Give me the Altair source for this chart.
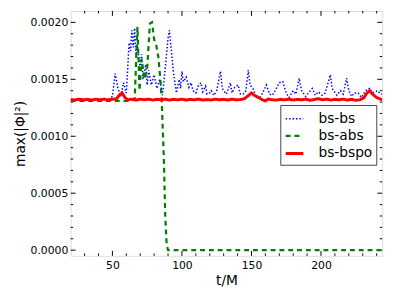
import altair as alt
import pandas as pd

# ---- data ----
bsbs_t = [20, 30, 40, 48, 50, 52, 54, 56, 58, 60, 62, 63, 64, 65, 66, 67, 68, 70, 71, 72, 74, 75, 76, 78,
          80, 82, 84, 86, 88, 90, 91, 92, 94, 96, 98, 99, 100, 101, 103, 105, 106.5, 108, 110, 112, 113.6,
          115, 117, 118, 120, 121, 123, 125, 127.7, 129, 130, 132, 134.8, 136, 138, 140.4, 142, 144, 146,
          147.7, 149, 151, 153, 155.7, 158, 160.7, 163, 165, 167, 170, 172.5, 175, 177, 180, 182, 184.3,
          186, 189, 191, 193.7, 196, 198, 200.8, 203, 206.7, 208, 211.4, 214, 216, 218.4, 220, 222, 224,
          226.7, 229, 232, 235, 237, 240.8, 242, 244]
bsbs_v = [0.00132, 0.00132, 0.00132, 0.00133, 0.00135, 0.00155, 0.00142, 0.00135, 0.00147, 0.00138,
          0.00182, 0.00175, 0.00193, 0.00178, 0.00195, 0.00170, 0.00180, 0.00160, 0.00172, 0.00150,
          0.00163, 0.00145, 0.00158, 0.00145, 0.00154, 0.00142, 0.00150, 0.00136, 0.00160, 0.00186,
          0.00193, 0.00180, 0.00155, 0.00138, 0.00150, 0.00142, 0.00157, 0.00148, 0.00152, 0.00143,
          0.00147, 0.00140, 0.00138, 0.00145, 0.00147, 0.00139, 0.00144, 0.00137, 0.00138, 0.00140,
          0.00136, 0.00140, 0.00157, 0.00142, 0.00140, 0.00137, 0.00147, 0.00138, 0.00143, 0.00145,
          0.00137, 0.00137, 0.00140, 0.00158, 0.00145, 0.00142, 0.00136, 0.00133, 0.00138, 0.00145,
          0.00137, 0.00136, 0.00140, 0.00147, 0.00148, 0.00138, 0.00134, 0.00140, 0.00137, 0.00151,
          0.00140, 0.00135, 0.00138, 0.00142, 0.00136, 0.00139, 0.00136, 0.00138, 0.00154, 0.00142,
          0.00136, 0.00140, 0.00137, 0.00151, 0.00140, 0.00135, 0.00138, 0.00138, 0.00134, 0.00140,
          0.00142, 0.00138, 0.00140, 0.00138, 0.00137]

bsabs_t = [20, 40, 62, 66, 68, 69.5, 71, 73, 75, 77, 78.5, 80, 81.5, 83, 84.5, 85.5, 87, 88, 89, 90, 150, 244]
bsabs_v = [0.00131, 0.00131, 0.00131, 0.00132, 0.00196, 0.00140, 0.00168, 0.00150, 0.00160, 0.00199,
           0.00200, 0.00185, 0.00180, 0.00170, 0.00150, 0.00130, 0.00080, 0.00030, 0.00005, 0.0, 0.0, 0.0]

bspo_t = [20, 23, 26, 29, 32, 35, 38, 41, 44, 47, 50, 53, 55, 57, 59, 61, 64, 67, 70, 73, 76, 79, 82, 85,
          88, 91, 94, 97, 100, 103, 106, 109, 112, 115, 118, 121, 124, 127, 130, 133, 136, 139, 142, 145,
          148, 150, 152, 155, 158, 160, 162, 165, 168, 171, 174, 177, 180, 183, 186, 189, 192, 195, 198,
          201, 204, 207, 210, 213, 216, 219, 222, 225, 228, 231, 233, 235, 237, 240, 242, 244]
bspo_v = [0.001322, 0.001318, 0.001326, 0.001320, 0.001324, 0.001318, 0.001325, 0.001320, 0.001326,
          0.001318, 0.001324, 0.00133, 0.00136, 0.00138, 0.00134, 0.00132, 0.001326, 0.001318, 0.001325,
          0.001320, 0.001326, 0.001318, 0.001324, 0.00132, 0.001326, 0.001318, 0.001324, 0.00132,
          0.001326, 0.001318, 0.001324, 0.00132, 0.001326, 0.001318, 0.001322, 0.001318, 0.001326,
          0.00132, 0.001324, 0.001318, 0.001326, 0.00132, 0.001322, 0.00133, 0.00136, 0.00138, 0.00136,
          0.00134, 0.00132, 0.00131, 0.001326, 0.00132, 0.001318, 0.001324, 0.00132, 0.001326, 0.001318,
          0.001324, 0.00132, 0.001326, 0.001316, 0.001322, 0.00133, 0.00132, 0.001326, 0.001318, 0.001324,
          0.00132, 0.001326, 0.001318, 0.001324, 0.001316, 0.00132, 0.00134, 0.00138, 0.00140, 0.00137,
          0.00134, 0.00133, 0.00132]

series_names = ["bs-bs", "bs-abs", "bs-bspo"]
series_colors = ["#0000ff", "#008000", "#ff0000"]
series_dash = [[1.5, 2], [5, 4], [1, 0]]
series_width = [1.5, 3, 2]

x_major = [50, 100, 150, 200]
x_minor = [30, 40, 60, 70, 80, 90, 110, 120, 130, 140, 160, 170, 180, 190, 210, 220, 230, 240]
y_major = [0.0000, 0.0005, 0.0010, 0.0015, 0.0020]
y_minor = [0.0001, 0.0002, 0.0003, 0.0004, 0.0006, 0.0007, 0.0008, 0.0009,
           0.0011, 0.0012, 0.0013, 0.0014, 0.0016, 0.0017, 0.0018, 0.0019]

x_domain = [20, 244]
y_domain = [-0.00005, 0.0021]

W, H = 318, 250

df = pd.concat([
    pd.DataFrame({"t": bsbs_t, "v": bsbs_v, "series": "bs-bs"}),
    pd.DataFrame({"t": bsabs_t, "v": bsabs_v, "series": "bs-abs"}),
    pd.DataFrame({"t": bspo_t, "v": bspo_v, "series": "bs-bspo"}),
])

xscale = alt.Scale(domain=x_domain, nice=False, zero=False)
yscale = alt.Scale(domain=y_domain, nice=False, zero=False)
xaxis = alt.Axis(values=x_major, ticks=False, domain=False, grid=False, labelPadding=4,
                 title="t/M", titleFontSize=14, titlePadding=3, labelFontSize=11)
yaxis = alt.Axis(values=y_major, format=".4f", ticks=False, domain=False, grid=False, labelPadding=3,
                 title="max(|Φ|²)", titleFontSize=14, titlePadding=3, labelFontSize=11)

color = alt.Color("series:N", scale=alt.Scale(domain=series_names, range=series_colors),
                  legend=alt.Legend(title=None, orient="none", legendX=214, legendY=96,
                                    symbolType="stroke", symbolSize=324, labelFontSize=14,
                                    labelOffset=14, padding=4, rowPadding=0,
                                    strokeColor="#444444", fillColor="white",
                                    labelColor="black"))
dash = alt.StrokeDash("series:N", scale=alt.Scale(domain=series_names, range=series_dash), legend=None)
swidth = alt.StrokeWidth("series:N", scale=alt.Scale(domain=series_names, range=series_width), legend=None)

layers = []
for name in series_names:
    layers.append(
        alt.Chart(df).transform_filter(alt.datum.series == name).mark_line(clip=True).encode(
            x=alt.X("t:Q", scale=xscale, axis=xaxis),
            y=alt.Y("v:Q", scale=yscale, axis=yaxis),
            color=color, strokeDash=dash, strokeWidth=swidth,
        )
    )

def xticks(vals, ln):
    d = pd.DataFrame({"t": vals})
    b = alt.Chart(d).mark_rule(color="black", strokeWidth=1).encode(
        x=alt.X("t:Q", scale=xscale, axis=xaxis), y=alt.value(H), y2=alt.value(H - ln))
    t = alt.Chart(d).mark_rule(color="black", strokeWidth=1).encode(
        x=alt.X("t:Q", scale=xscale, axis=xaxis), y=alt.value(0), y2=alt.value(ln))
    return [b, t]

def yticks(vals, ln):
    d = pd.DataFrame({"v": vals})
    l = alt.Chart(d).mark_rule(color="black", strokeWidth=1).encode(
        y=alt.Y("v:Q", scale=yscale, axis=yaxis), x=alt.value(0), x2=alt.value(ln))
    r = alt.Chart(d).mark_rule(color="black", strokeWidth=1).encode(
        y=alt.Y("v:Q", scale=yscale, axis=yaxis), x=alt.value(W), x2=alt.value(W - ln))
    return [l, r]

ticks = xticks(x_major, 5) + xticks(x_minor, 2.5) + yticks(y_major, 5) + yticks(y_minor, 2.5)

chart = alt.layer(*(ticks + layers)).properties(
    width=W, height=H,
    autosize=alt.AutoSizeParams(type="none"),
    padding={"left": 64, "top": 0, "right": 9, "bottom": 40},
).configure_view(stroke="#222222", strokeWidth=1.2).configure(
    font="DejaVu Sans"
).configure_axis(labelColor="black", titleColor="black", labelFont="DejaVu Sans",
                 titleFont="DejaVu Sans", titleFontWeight="normal")

chart.save("out.html", embed_options={"renderer": "svg", "actions": False})
